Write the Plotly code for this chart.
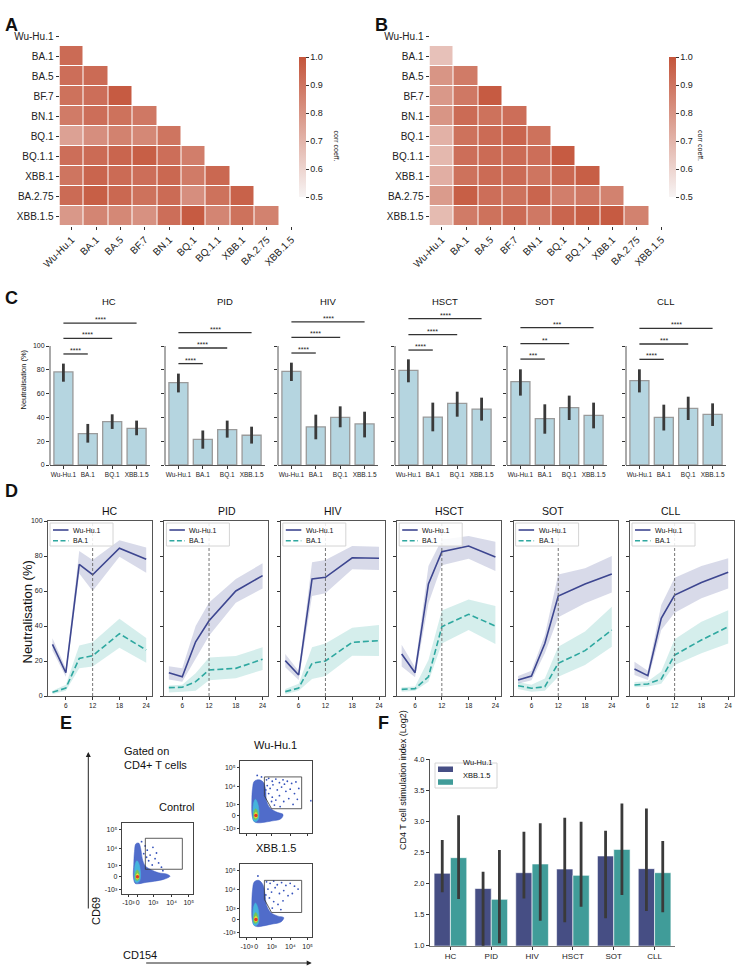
import plotly.graph_objects as go

W, H = 738, 973
FONT = "Liberation Sans, Arial, sans-serif"

# ---------------- data ----------------
variants = ["Wu-Hu.1", "BA.1", "BA.5", "BF.7", "BN.1", "BQ.1",
            "BQ.1.1", "XBB.1", "BA.2.75", "XBB.1.5"]

# lower triangle of the correlation matrices (row i vs columns 0..i-1)
corr_a = [
    [],
    [0.93],
    [0.92, 0.93],
    [0.91, 0.92, 0.98],
    [0.88, 0.92, 0.91, 0.89],
    [0.76, 0.82, 0.86, 0.84, 0.90],
    [0.92, 0.93, 0.95, 0.97, 0.92, 0.87],
    [0.90, 0.95, 0.93, 0.92, 0.94, 0.88, 0.94],
    [0.93, 0.97, 0.94, 0.91, 0.93, 0.82, 0.91, 0.96],
    [0.79, 0.85, 0.84, 0.81, 0.92, 0.98, 0.85, 0.91, 0.86],
]
corr_b = [
    [],
    [0.66],
    [0.80, 0.88],
    [0.79, 0.89, 0.98],
    [0.80, 0.93, 0.91, 0.92],
    [0.71, 0.91, 0.93, 0.95, 0.91],
    [0.69, 0.92, 0.93, 0.93, 0.92, 0.98],
    [0.72, 0.91, 0.93, 0.93, 0.90, 0.94, 0.97],
    [0.78, 0.97, 0.92, 0.91, 0.95, 0.87, 0.89, 0.86],
    [0.68, 0.88, 0.91, 0.93, 0.89, 0.95, 0.97, 0.98, 0.86],
]

groups = ["HC", "PID", "HIV", "HSCT", "SOT", "CLL"]
c_variants = ["Wu-Hu.1", "BA.1", "BQ.1", "XBB.1.5"]

neut_mean = [
    [78.2, 26.3, 36.4, 30.8],
    [69.2, 21.6, 29.7, 25.0],
    [78.7, 32.0, 40.0, 34.5],
    [79.5, 40.3, 51.8, 47.0],
    [70.0, 39.0, 48.2, 41.7],
    [70.9, 40.0, 47.6, 42.6],
]
neut_lo = [
    [70.0, 18.8, 30.3, 25.0],
    [61.0, 13.7, 23.0, 18.0],
    [70.6, 21.6, 31.7, 23.2],
    [69.5, 28.3, 40.6, 37.3],
    [58.3, 26.3, 37.8, 30.8],
    [61.0, 29.0, 37.8, 32.8],
]
neut_hi = [
    [85.2, 34.5, 42.6, 37.3],
    [76.8, 29.0, 37.3, 32.2],
    [86.0, 42.3, 49.3, 44.8],
    [88.8, 52.4, 61.6, 56.6],
    [80.4, 51.0, 58.3, 52.4],
    [80.4, 50.7, 57.4, 51.8],
]
bracket_y = [
    [93.3, 106.4, 119.3],
    [85.2, 98.3, 111.2],
    [94.1, 107.3, 120.2],
    [96.6, 109.5, 123.0],
    [89.0, 102.0, 115.4],
    [88.8, 101.7, 114.8],
]
bracket_txt = [
    ["****", "****", "****"],
    ["****", "****", "****"],
    ["****", "****", "****"],
    ["****", "****", "****"],
    ["***", "**", "***"],
    ["****", "***", "****"],
]

weeks = [3, 6, 9, 12, 18, 24]
wu_mean = [
    [29.5, 13.3, 75.2, 69.3, 84.4, 78.1],
    [13.3, 11.0, 31.0, 43.0, 60.0, 68.8],
    [20.2, 12.0, 66.9, 67.8, 79.0, 78.7],
    [24.0, 13.3, 64.0, 82.5, 85.7, 79.4],
    [9.1, 11.4, 30.0, 57.1, 64.0, 69.7],
    [15.4, 11.6, 44.4, 57.7, 64.8, 70.7],
]
wu_lo = [
    [26.0, 11.0, 70.0, 60.0, 79.6, 70.5],
    [9.5, 8.2, 21.5, 34.5, 53.3, 61.5],
    [16.4, 9.1, 57.1, 58.7, 72.4, 72.0],
    [16.8, 10.7, 53.0, 74.7, 78.5, 71.4],
    [7.0, 9.0, 24.4, 45.0, 53.0, 59.2],
    [12.0, 9.1, 37.7, 47.6, 55.8, 61.5],
]
wu_hi = [
    [33.0, 15.8, 82.9, 77.7, 89.0, 84.8],
    [17.0, 15.8, 40.0, 53.5, 66.9, 75.8],
    [24.0, 14.3, 76.4, 77.7, 85.7, 85.3],
    [29.3, 16.4, 74.3, 89.5, 91.4, 88.2],
    [11.5, 14.5, 34.9, 69.5, 73.0, 80.0],
    [19.6, 14.5, 52.0, 67.6, 74.3, 78.7],
]
ba1_mean = [
    [2.1, 4.5, 21.5, 23.0, 35.6, 26.3],
    [4.8, 5.0, 8.2, 14.9, 15.8, 21.0],
    [2.5, 4.5, 18.7, 20.0, 30.7, 31.6],
    [3.8, 4.2, 11.0, 39.6, 46.7, 40.0],
    [5.9, 4.4, 5.3, 18.7, 25.9, 37.7],
    [6.3, 6.9, 9.7, 23.4, 32.0, 39.6],
]
ba1_lo = [
    [1.0, 3.0, 15.8, 16.8, 27.6, 19.0],
    [2.0, 2.5, 3.0, 9.0, 10.1, 14.9],
    [1.0, 3.0, 9.7, 11.4, 23.0, 22.9],
    [2.5, 3.0, 8.2, 30.0, 37.7, 29.7],
    [4.0, 2.5, 3.0, 11.0, 17.7, 28.2],
    [5.0, 5.5, 7.0, 17.7, 24.4, 30.0],
]
ba1_hi = [
    [3.0, 6.5, 28.8, 30.7, 44.2, 33.1],
    [6.0, 6.5, 13.0, 22.0, 22.9, 27.8],
    [4.0, 7.0, 27.8, 30.0, 39.0, 40.6],
    [5.0, 5.5, 20.6, 48.8, 55.2, 51.4],
    [8.0, 6.5, 10.0, 28.2, 36.8, 51.0],
    [8.0, 8.5, 14.0, 32.4, 42.5, 49.0],
]

# flow cytometry sketches, in axis-fraction units
flow_xticks = [0.094, 0.225, 0.444, 0.703, 0.944]
flow_yticks = [0.06, 0.245, 0.40, 0.65, 0.91]
flow_ticktext = ["-10³", "0", "10³", "10⁴", "10⁵"]
flow_titles = ["Control", "Wu-Hu.1", "XBB.1.5"]

ctrl_cloud = [(0.19, 0.15), (0.165, 0.24), (0.17, 0.42), (0.18, 0.60), (0.20, 0.71),
              (0.24, 0.72), (0.27, 0.63), (0.29, 0.50), (0.33, 0.40), (0.42, 0.34),
              (0.52, 0.30), (0.64, 0.28), (0.68, 0.25), (0.60, 0.21), (0.46, 0.18),
              (0.32, 0.16), (0.24, 0.145)]
wu_cloud = [(0.20, 0.16), (0.17, 0.24), (0.165, 0.45), (0.175, 0.62), (0.20, 0.72),
            (0.27, 0.74), (0.33, 0.70), (0.36, 0.58), (0.37, 0.45), (0.42, 0.35),
            (0.52, 0.29), (0.60, 0.26), (0.57, 0.20), (0.44, 0.17), (0.32, 0.15),
            (0.25, 0.145)]
xbb_cloud = [(0.20, 0.16), (0.17, 0.24), (0.165, 0.45), (0.175, 0.65), (0.20, 0.76),
             (0.26, 0.78), (0.32, 0.72), (0.35, 0.58), (0.37, 0.44), (0.43, 0.34),
             (0.53, 0.29), (0.61, 0.27), (0.57, 0.21), (0.44, 0.18), (0.32, 0.155),
             (0.25, 0.145)]
core_cyan = [(0.19, 0.17), (0.18, 0.28), (0.19, 0.42), (0.215, 0.47), (0.245, 0.42),
             (0.265, 0.30), (0.255, 0.19), (0.22, 0.16)]
core_green = [(0.195, 0.20), (0.195, 0.30), (0.22, 0.34), (0.245, 0.30), (0.245, 0.21),
              (0.22, 0.19)]
core_yellow = [(0.205, 0.22), (0.205, 0.27), (0.222, 0.29), (0.238, 0.27), (0.238, 0.22),
               (0.222, 0.21)]
core_red = (0.222, 0.245)

ctrl_gate = [(0.333, 0.35), (0.333, 0.788), (0.854, 0.788), (0.854, 0.35), (0.333, 0.35)]
stim_gate = [(0.34, 0.52), (0.34, 0.78), (0.86, 0.78), (0.86, 0.34), (0.44, 0.34), (0.34, 0.52)]

ctrl_dots = [(0.36, 0.62), (0.40, 0.55), (0.44, 0.66), (0.47, 0.50), (0.38, 0.47),
             (0.52, 0.44), (0.43, 0.41), (0.56, 0.38), (0.35, 0.52), (0.49, 0.58),
             (0.58, 0.33), (0.31, 0.57), (0.33, 0.68), (0.28, 0.74)]
wu_dots = [(0.37, 0.74), (0.40, 0.76), (0.45, 0.72), (0.50, 0.75), (0.55, 0.70),
           (0.60, 0.74), (0.66, 0.72), (0.72, 0.69), (0.78, 0.71), (0.82, 0.62),
           (0.38, 0.66), (0.42, 0.62), (0.46, 0.67), (0.52, 0.60), (0.58, 0.64),
           (0.64, 0.58), (0.70, 0.61), (0.76, 0.55), (0.40, 0.55), (0.45, 0.50),
           (0.50, 0.46), (0.55, 0.52), (0.61, 0.44), (0.68, 0.48), (0.74, 0.40),
           (0.48, 0.39), (0.56, 0.37), (0.36, 0.60), (0.44, 0.44), (0.80, 0.47),
           (0.99, 0.45), (0.30, 0.78), (0.24, 0.80), (0.62, 0.68)]
xbb_dots = [(0.37, 0.76), (0.42, 0.74), (0.47, 0.77), (0.52, 0.72), (0.58, 0.75),
            (0.64, 0.71), (0.70, 0.74), (0.76, 0.70), (0.81, 0.66), (0.39, 0.66),
            (0.44, 0.62), (0.49, 0.68), (0.55, 0.60), (0.61, 0.64), (0.67, 0.57),
            (0.73, 0.60), (0.41, 0.54), (0.47, 0.49), (0.53, 0.45), (0.60, 0.50),
            (0.45, 0.40), (0.36, 0.58), (0.25, 0.84), (0.57, 0.38)]

f_wu = [2.165, 1.92, 2.175, 2.234, 2.444, 2.24]
f_wu_lo = [1.86, 0.98, 1.76, 1.376, 1.44, 1.56]
f_wu_hi = [2.70, 2.19, 2.835, 3.06, 2.85, 3.21]
f_xbb = [2.417, 1.746, 2.315, 2.132, 2.55, 2.175]
f_xbb_lo = [1.75, 1.04, 1.40, 1.628, 1.816, 1.537]
f_xbb_hi = [3.10, 2.54, 2.97, 2.996, 3.29, 2.685]

# ---------------- styling helpers ----------------
NAVY = "#3d4690"
TEAL = "#2fa8a0"
F_NAVY = "#464e84"
F_TEAL = "#409c99"
ERR = "#3a3a3a"


def xd(a, b):
    return [a / W, b / W]


def yd(top, bottom):
    return [1 - bottom / H, 1 - top / H]


def px(x):
    return x / W


def py(y):
    return 1 - y / H


def names(k):
    s = "" if k == 1 else str(k)
    return "x" + s, "y" + s, "xaxis" + s, "yaxis" + s


def axis(**kw):
    base = dict(showgrid=False, zeroline=False, ticks="outside", ticklen=3, tickwidth=1,
                tickcolor="#333", tickfont=dict(size=7, family=FONT, color="#222"),
                linecolor="#555", linewidth=1, showline=True, automargin=False)
    base.update(kw)
    return base


fig = go.Figure()
layout = {}
shapes = []
annotations = []


def label(x, y, text, size, **kw):
    d = dict(x=px(x), y=py(y), xref="paper", yref="paper", text=text, showarrow=False,
             font=dict(size=size, family=FONT, color="#111"))
    d.update(kw)
    annotations.append(d)


def hline(x0, x1, y, **line):
    shapes.append(dict(type="line", xref="paper", yref="paper", x0=px(x0), x1=px(x1),
                       y0=py(y), y1=py(y), line=line))


def box(x0, x1, y0, y1, **kw):
    shapes.append(dict(type="rect", xref="paper", yref="paper", x0=px(x0), x1=px(x1),
                       y0=py(y1), y1=py(y0), **kw))


# ---------------- A / B: correlation heatmaps ----------------
def tri(vals):
    n = len(variants)
    return [[vals[i][j] if j < i else None for j in range(n)] for i in range(n)]


heat_scale = [[0, "#f7f4f4"], [1, "#c4553b"]]
for k, (vals, x0, letter) in enumerate([(corr_a, 0, "A"), (corr_b, 370, "B")], start=1):
    xa, ya, xk, yk = names(k)
    fig.add_trace(go.Heatmap(
        z=tri(vals), x=variants, y=variants, xaxis=xa, yaxis=ya,
        zmin=0.5, zmax=1.0, colorscale=heat_scale, xgap=1, ygap=1, hoverongaps=False,
        colorbar=dict(x=px(x0 + 299), xanchor="left", y=py(127), yanchor="middle",
                      len=140 / H, thickness=7, outlinewidth=0, xpad=0, ypad=0,
                      tickvals=[0.5, 0.6, 0.7, 0.8, 0.9, 1.0],
                      ticktext=["0.5", "0.6", "0.7", "0.8", "0.9", "1.0"],
                      ticks="outside", ticklen=3, tickcolor="#333",
                      tickfont=dict(size=9, family=FONT, color="#222")),
    ))
    layout[xk] = axis(domain=xd(x0 + 59.5, x0 + 303.5), anchor=ya, tickangle=-45,
                      showline=False, tickfont=dict(size=10, family=FONT, color="#222"))
    layout[yk] = axis(domain=yd(26, 226), anchor=xa, autorange="reversed",
                      showline=False, tickfont=dict(size=10, family=FONT, color="#222"))
    label(x0 + 336, 128, "corr coeff.", 7, textangle=90)
    label(x0 + 3, 13, "<b>" + letter + "</b>", 18, xanchor="left")

# ---------------- C: neutralisation bars ----------------
c_lefts = [50, 165, 278, 395, 507, 626]
for g in range(6):
    k = 3 + g
    xa, ya, xk, yk = names(k)
    m = neut_mean[g]
    fig.add_trace(go.Bar(
        x=list(range(4)), y=m, xaxis=xa, yaxis=ya, width=0.78, showlegend=False,
        marker=dict(color="#b5d5e0", line=dict(color="#9a9a9a", width=1.3)),
        error_y=dict(type="data", symmetric=False,
                     array=[h - v for h, v in zip(neut_hi[g], m)],
                     arrayminus=[v - lo for lo, v in zip(neut_lo[g], m)],
                     color=ERR, thickness=2.8, width=0),
    ))
    layout[xk] = axis(domain=xd(c_lefts[g], c_lefts[g] + 100), anchor=ya,
                      range=[-0.55, 3.55], tickvals=list(range(4)), ticktext=c_variants,
                      tickangle=0, tickfont=dict(size=6.5, family=FONT, color="#222"))
    layout[yk] = axis(domain=yd(300, 465), anchor=xa, range=[0, 165 / 1.19],
                      tickvals=[0, 20, 40, 60, 80, 100], showticklabels=(g == 0),
                      showline=False)
    shapes.append(dict(type="line", xref=xa + " domain", yref=ya, x0=0, x1=0, y0=0, y1=100,
                       line=dict(color="#555", width=1)))
    for j, h in enumerate(bracket_y[g]):
        shapes.append(dict(type="line", xref=xa, yref=ya, x0=0, x1=j + 1, y0=h, y1=h,
                           line=dict(color="#333", width=1.3)))
        annotations.append(dict(x=(j + 1) / 2, y=h, xref=xa, yref=ya, text=bracket_txt[g][j],
                                showarrow=False, yanchor="bottom", yshift=-2,
                                font=dict(size=7, family=FONT, color="#222")))
    label(c_lefts[g] + 50, 294, groups[g], 9.5)

label(17, 380, "Neutralisation (%)", 7.5, textangle=-90)
label(3, 286, "<b>C</b>", 18, xanchor="left")

# ---------------- D: neutralisation over time ----------------
d_lefts = [48, 164.4, 280.8, 397.2, 513.6, 630]
for g in range(6):
    k = 9 + g
    xa, ya, xk, yk = names(k)
    for lo, hi, col in [(wu_lo[g], wu_hi[g], "rgba(61,70,144,0.2)"),
                        (ba1_lo[g], ba1_hi[g], "rgba(47,168,160,0.2)")]:
        fig.add_trace(go.Scatter(x=weeks + weeks[::-1], y=hi + lo[::-1], xaxis=xa, yaxis=ya,
                                 fill="toself", fillcolor=col, mode="lines",
                                 line=dict(width=0), showlegend=False, hoverinfo="skip"))
    fig.add_trace(go.Scatter(x=weeks, y=wu_mean[g], xaxis=xa, yaxis=ya, mode="lines",
                             name="Wu-Hu.1", showlegend=False,
                             line=dict(color=NAVY, width=1.6)))
    fig.add_trace(go.Scatter(x=weeks, y=ba1_mean[g], xaxis=xa, yaxis=ya, mode="lines",
                             name="BA.1", showlegend=False,
                             line=dict(color=TEAL, width=1.6, dash="6px,3px")))
    layout[xk] = axis(domain=xd(d_lefts[g], d_lefts[g] + 104), anchor=ya, range=[2, 25.3],
                      tickvals=[6, 12, 18, 24], mirror=True,
                      tickfont=dict(size=6.5, family=FONT, color="#222"))
    layout[yk] = axis(domain=yd(521, 696), anchor=xa, range=[0, 100],
                      tickvals=[0, 20, 40, 60, 80, 100], showticklabels=(g == 0), mirror=True)
    shapes.append(dict(type="line", xref=xa, yref=ya + " domain", x0=12, x1=12, y0=0, y1=1,
                       line=dict(color="#666", width=0.9, dash="3px,2px")))
    # legend box
    L = d_lefts[g]
    box(L + 2, L + 65, 523, 546, line=dict(color="#d4d4d4", width=1),
        fillcolor="rgba(255,255,255,0.85)")
    hline(L + 5, L + 20.5, 530, color=NAVY, width=1.6)
    hline(L + 5, L + 20.5, 540.7, color=TEAL, width=1.6, dash="5px,2.5px")
    label(L + 23, 530, "Wu-Hu.1", 7, xanchor="left")
    label(L + 23, 540.7, "BA.1", 7, xanchor="left")
    label(L + 52, 511, groups[g], 10.5)

label(17, 612, "Neutralisation (%)", 13, textangle=-90)
label(3, 491, "<b>D</b>", 18, xanchor="left")

# ---------------- E: flow cytometry ----------------
flow_boxes = [(121.7, 192.7, 823.3, 894.0), (240, 311.7, 761, 833.3), (240, 311.7, 864.3, 937.3)]
flow_clouds = [ctrl_cloud, wu_cloud, xbb_cloud]
flow_gates = [ctrl_gate, stim_gate, stim_gate]
flow_dots = [ctrl_dots, wu_dots, xbb_dots]
levels = [(core_cyan, "#46b4dc"), (core_green, "#72c85a"), (core_yellow, "#f0dc30")]
for i in range(3):
    k = 15 + i
    xa, ya, xk, yk = names(k)
    poly = flow_clouds[i]
    fig.add_trace(go.Scatter(x=[p[0] for p in poly] + [poly[0][0]],
                             y=[p[1] for p in poly] + [poly[0][1]],
                             xaxis=xa, yaxis=ya, fill="toself", fillcolor="rgba(61,92,196,0.9)",
                             mode="lines", line=dict(color="#3d5cc4", width=0.5, shape="spline"),
                             showlegend=False, hoverinfo="skip"))
    for poly, col in levels:
        fig.add_trace(go.Scatter(x=[p[0] for p in poly] + [poly[0][0]],
                                 y=[p[1] for p in poly] + [poly[0][1]],
                                 xaxis=xa, yaxis=ya, fill="toself", fillcolor=col,
                                 mode="lines", line=dict(color=col, width=0.5, shape="spline"),
                                 showlegend=False, hoverinfo="skip"))
    fig.add_trace(go.Scatter(x=[core_red[0]], y=[core_red[1]], xaxis=xa, yaxis=ya,
                             mode="markers", marker=dict(color="#e23a26", size=3.5),
                             showlegend=False, hoverinfo="skip"))
    dots = flow_dots[i]
    fig.add_trace(go.Scatter(x=[p[0] for p in dots], y=[p[1] for p in dots], xaxis=xa, yaxis=ya,
                             mode="markers", marker=dict(color="#3552bb", size=1.8),
                             showlegend=False, hoverinfo="skip"))
    gate = flow_gates[i]
    fig.add_trace(go.Scatter(x=[p[0] for p in gate], y=[p[1] for p in gate], xaxis=xa, yaxis=ya,
                             mode="lines", line=dict(color="#333", width=0.8),
                             showlegend=False, hoverinfo="skip"))
    x0, x1, y0, y1 = flow_boxes[i]
    layout[xk] = axis(domain=xd(x0, x1), anchor=ya, range=[0, 1], tickvals=flow_xticks,
                      ticktext=flow_ticktext, mirror=True, linecolor="#444", ticklen=2,
                      tickangle=0, showticklabels=(i != 1),
                      tickfont=dict(size=7, family=FONT, color="#222"))
    layout[yk] = axis(domain=yd(y0, y1), anchor=xa, range=[0, 1], tickvals=flow_yticks,
                      ticktext=flow_ticktext, mirror=True, linecolor="#444", ticklen=2,
                      tickfont=dict(size=7, family=FONT, color="#222"))
    label((x0 + x1) / 2, y0 - 8, flow_titles[i], 11)

label(122, 773, "Gated on<br>CD4+ T cells", 11, xanchor="left", align="left")
annotations.append(dict(x=px(88.3), y=py(752), xref="paper", yref="paper", text="",
                        showarrow=True, ax=0, ay=158, arrowhead=2, arrowsize=1,
                        arrowwidth=1, arrowcolor="#222"))
annotations.append(dict(x=px(311.7), y=py(963), xref="paper", yref="paper", text="",
                        showarrow=True, ax=-167, ay=0, arrowhead=2, arrowsize=1,
                        arrowwidth=1, arrowcolor="#222"))
label(88, 927, "CD69", 11, textangle=-90)
label(121, 963, "CD154", 11)
label(58, 735, "<b>E</b>", 18, xanchor="left")

# ---------------- F: T cell stimulation ----------------
xa, ya, xk, yk = names(18)
for vals, lo, hi, name, col in [(f_wu, f_wu_lo, f_wu_hi, "Wu-Hu.1", F_NAVY),
                                (f_xbb, f_xbb_lo, f_xbb_hi, "XBB.1.5", F_TEAL)]:
    fig.add_trace(go.Bar(
        x=groups, y=vals, name=name, xaxis=xa, yaxis=ya, showlegend=False,
        marker=dict(color=col, line=dict(color="rgba(255,255,255,0.6)", width=1)),
        error_y=dict(type="data", symmetric=False,
                     array=[h - v for h, v in zip(hi, vals)],
                     arrayminus=[v - l for l, v in zip(lo, vals)],
                     color=ERR, thickness=2.8, width=0),
    ))
layout[xk] = axis(domain=xd(430, 675), anchor=ya, range=[-0.5, 5.5], linecolor="#777",
                  tickangle=0, tickfont=dict(size=8, family=FONT, color="#222"))
layout[yk] = axis(domain=yd(759.3, 945.7), anchor=xa, range=[1, 4],
                  tickvals=[1, 1.5, 2, 2.5, 3, 3.5, 4], tickformat=".1f", linecolor="#555",
                  tickfont=dict(size=7.5, family=FONT, color="#222"))
# legend box for F
box(435, 497, 763, 788, line=dict(color="#d4d4d4", width=1), fillcolor="rgba(255,255,255,0.85)")
box(438, 453, 766.5, 772, line=dict(width=0), fillcolor=F_NAVY)
box(438, 453, 779.3, 784.8, line=dict(width=0), fillcolor=F_TEAL)
label(461, 769.3, "Wu-Hu.1", 7.5, xanchor="left")
label(461, 782, "XBB.1.5", 7.5, xanchor="left")

label(403, 852, "CD4 T cell stimulation index (Log2)", 9, textangle=-90)
label(376, 735, "<b>F</b>", 18, xanchor="left")

# the template fades shapes by default; keep them solid
for s in shapes:
    s["opacity"] = 1

fig.update_layout(
    width=W, height=H, margin=dict(l=0, r=0, t=0, b=0, pad=0, autoexpand=False),
    template="simple_white", paper_bgcolor="white", plot_bgcolor="white",
    font=dict(family=FONT, color="#222"), showlegend=False,
    barmode="group", bargap=0.2, bargroupgap=0,
    shapes=shapes, annotations=annotations, **layout,
)

# the page body has a default 8px margin; drop it so the figure fills the window
fig.write_html("out.html", config={"displayModeBar": False},
               post_script="document.body.style.margin = '0px';")
